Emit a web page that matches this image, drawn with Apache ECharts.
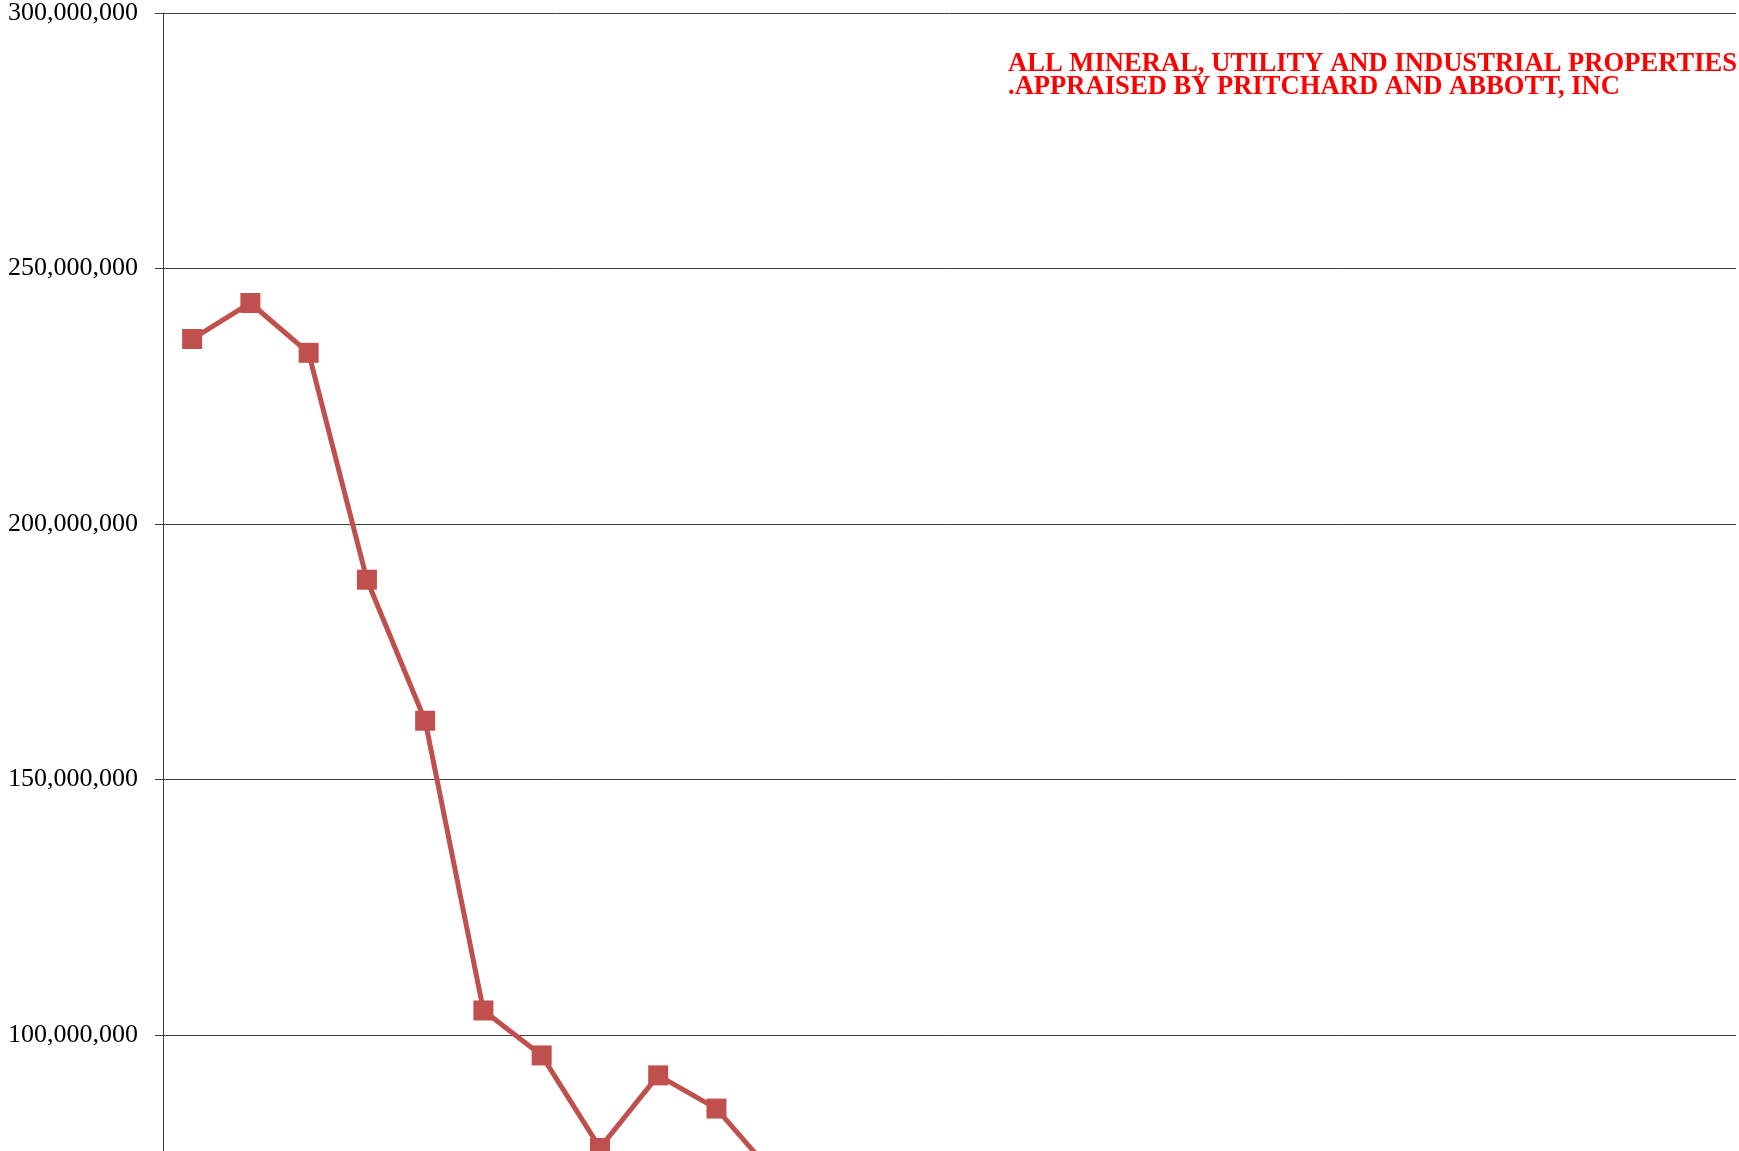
<!DOCTYPE html>
<html>
<head>
<meta charset="utf-8">
<script src="https://cdn.jsdelivr.net/npm/echarts@6/dist/echarts.min.js"></script>
<style>
html, body { margin:0; padding:0; overflow:hidden; background:#fff; }
#wrap { width:1739px; height:1151px; overflow:hidden; position:relative; }
#chart { width:1739px; height:1620px; position:absolute; left:0; top:0; }
</style>
</head>
<body>
<div id="wrap"><div id="chart"></div></div>
<script>
var categories = ['1983','1984','1985','1986','1987','1988','1989','1990','1991','1992','1993','1994','1995','1996','1997','1998','1999','2000','2001','2002','2003','2004','2005','2006','2007','2008','2009'];
var values = [236200000, 243250000, 233500000, 189100000, 161500000, 104800000, 96000000, 77900000, 92100000, 85600000, 72500000];
var yTicks = { min: 0, max: 300000000, interval: 50000000 };
var titleLines = ['ALL MINERAL, UTILITY AND INDUSTRIAL PROPERTIES', '.APPRAISED BY PRITCHARD AND ABBOTT, INC'];

var chart = echarts.init(document.getElementById('chart'), null, { renderer: 'canvas' });
chart.setOption({
  animation: false,
  backgroundColor: '#ffffff',
  title: {
    text: titleLines.join('\n'),
    left: 1008,
    top: 53,
    padding: 0,
    textStyle: {
      color: '#ff0000',
      fontFamily: '"Liberation Serif", "Times New Roman", serif',
      fontWeight: 'bold',
      fontSize: 26.6,
      lineHeight: 23
    }
  },
  grid: { left: 163, right: 3, top: 13, bottom: 74, containLabel: false },
  xAxis: {
    type: 'category',
    data: categories,
    boundaryGap: true,
    axisLine: { lineStyle: { color: '#404040', width: 1 } },
    axisTick: { show: false },
    axisLabel: { show: false },
    splitLine: { show: false }
  },
  yAxis: {
    type: 'value',
    min: yTicks.min,
    max: yTicks.max,
    interval: yTicks.interval,
    axisLine: { show: true, lineStyle: { color: '#404040', width: 1 } },
    axisTick: { show: true, length: 8, lineStyle: { color: '#404040', width: 1 } },
    axisLabel: {
      margin: 25,
      color: '#000000',
      fontFamily: '"Liberation Serif", "Times New Roman", serif',
      fontSize: 26,
      formatter: function (v) { return v.toLocaleString('en-US'); }
    },
    splitLine: { show: true, lineStyle: { color: '#404040', width: 1 } }
  },
  series: [{
    type: 'line',
    data: values,
    symbol: 'rect',
    symbolSize: 20,
    smooth: false,
    lineStyle: { color: '#C0504D', width: 5 },
    itemStyle: { color: '#C0504D' }
  }]
});
</script>
</body>
</html>
